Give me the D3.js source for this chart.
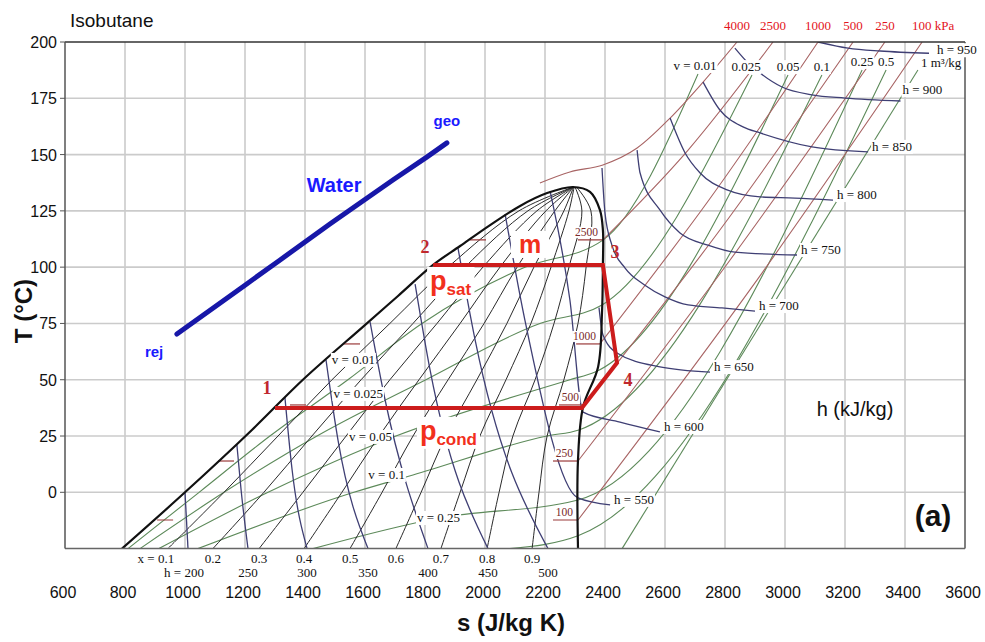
<!DOCTYPE html>
<html>
<head>
<meta charset="utf-8">
<script src="https://cdn.jsdelivr.net/npm/d3@7"></script>
<style>body{margin:0;background:#fff}</style>
</head>
<body>
<svg id="chart" width="985" height="642"></svg>
<script>
// s in J/kg K, T in °C

// saturation dome, liquid side then vapour side
const dome = [[790,-25],[1000,0],[1223,27.7],[1393,50],[1593,73.5],[1710,87.2],[1827,101],[1917,109.4],[2017,118.7],
  [2117,127.2],[2207,132.9],[2293,135.6],[2350,133.4],[2383,125.4],[2393,116.5],[2393,101],[2390,79.7],
  [2377,55.7],[2327,38],[2310,14.4],[2310,-25]];

// quality lines
const qualities = [0.1,0.2,0.3,0.4,0.5,0.6,0.7,0.8,0.9];
const qualityLines = [
  [[943,-25],[1130,0],[1310,25],[1490,50],[1683,75],[1877,100],[2113,125],[2295,135.6]],
  [[1093,-25],[1263,0],[1423,25],[1587,50],[1760,75],[1933,100],[2143,125],[2295,135.6]],
  [[1247,-25],[1393,0],[1537,25],[1683,50],[1840,75],[1993,100],[2173,125],[2295,135.6]],
  [[1397,-25],[1523,0],[1647,25],[1780,50],[1917,75],[2050,100],[2203,125],[2295,135.6]],
  [[1550,-25],[1657,0],[1760,25],[1877,50],[1997,75],[2107,100],[2233,125],[2295,135.6]],
  [[1703,-25],[1787,0],[1870,25],[1973,50],[2073,75],[2163,100],[2263,125],[2295,135.6]],
  [[1853,-25],[1917,0],[1983,25],[2070,50],[2153,75],[2220,100],[2280,125],[2297,135.6]],
  [[2007,-25],[2047,0],[2093,25],[2167,50],[2230,75],[2280,100],[2323,125],[2300,135.6]],
  [[2157,-25],[2180,0],[2207,25],[2263,50],[2310,75],[2337,100],[2353,125],[2305,135.6]]
];

// isenthalps (kJ/kg)
const hValues = [200,250,300,350,400,450,500,550,600,650,700,750,800,850,900,950];
const hLines = [
  [[1000,0],[1010,-25]],
  [[1173,21],[1187,1],[1210,-25]],
  [[1333,42.3],[1357,10],[1407,-25]],
  [[1470,58.8],[1510,23.2],[1610,-25]],
  [[1617,75.6],[1667,41],[1810,-25]],
  [[1767,92.5],[1817,54.3],[2010,-25]],
  [[1910,108.5],[1967,67.7],[2210,-25]],
  [[2067,123.6],[2133,76.5],[2310,-2.5],[2417,-5.6]],
  [[2217,133.8],[2283,85.4],[2327,35.6],[2450,31.2],[2583,26.8]],
  [[2380,82],[2393,70],[2440,61.9],[2583,55.7],[2750,53.4]],
  [[2390,144],[2400,124],[2423,109.8],[2467,99.6],[2533,92],[2600,86.8],[2677,83.2],[2790,81.9],[2900,80.5]],
  [[2507,152],[2517,141.8],[2583,125.4],[2650,115.2],[2743,109.8],[2833,106.7],[3040,105.4]],
  [[2617,166.2],[2667,150.7],[2717,141.8],[2807,134.3],[2917,131.2],[3033,130.7],[3160,129.8]],
  [[2727,182.2],[2783,169.8],[2860,162.3],[2917,159.6],[3090,153.4],[3277,151.2]],
  [[2833,197.3],[2877,190.7],[2917,186.2],[2990,180],[3090,176.5],[3200,175.1],[3385,173.8]],
  [[3110,200],[3210,197.3],[3317,196],[3480,195]]
];

// isochores (m3/kg)
const vLabels = ["0.01","0.025","0.05","0.1","0.25","0.5","1"];
const vLines = [
  [[810,-25],[1047,0],[1283,25],[1543,50],[1790,75],[2127,99.6],[2393,112],[2710,185.8]],
  [[850,-25],[1130,0],[1440,25],[1803,50],[2183,75],[2390,83.2],[2890,185.3]],
  [[913,-25],[1277,0],[1703,25],[2283,50],[2367,53.4],[3010,185.3]],
  [[1043,-25],[1563,0],[1760,7.7],[2207,25],[2313,27.7],[3123,185.3]],
  [[1427,-25],[1847,-11.4],[2310,-3.4],[3257,187.6]],
  [[2083,-25],[2310,-19.3],[3337,187.6]],
  [[2457,-25],[3443,187.6]]
];
// where the v labels sit inside the dome (right end)
const vDomeLabelPos = [[1633,58.8],[1660,43.7],[1690,24.6],[1733,7.7],[1917,-11.4]];

// isobars (kPa), superheated part
const pValues = [4000,2500,1000,500,250,100];
const pLines = [
  [[2183,137.4],[2283,142.3],[2393,145.4],[2507,152.9],[2617,166.2],[2727,182.2],[2840,200]],
  [[2393,112.1],[2677,152],[2960,200]],
  [[2383,65.9],[2750,130.5],[3110,200]],
  [[2330,38.8],[2783,116.5],[3227,200]],
  [[2310,13.9],[2817,103.2],[3333,200]],
  [[2310,-12.3],[2883,89.9],[3457,200]]
];
// isobars inside the dome: saturation temperature, liquid and vapour entropy
const satP = [2500,1000,500,250,100];
const satT = [112.1,65.9,38.8,13.9,-12.3];
const satSl = [1950,1530,1350,1110,907];
const satSv = [2393,2387,2330,2310,2310];

// ORC cycle 1-2-3-4 and the geothermal water line
const cycle = [[1300,37.5],[2323,37.5],[2440,57.5],[2393,101],[1827,101]];
const cycleLabels = [["1",1273,43.7],["2",1800,106.3],["3",2433,104],["4",2477,47.2]];
const water = [[973,70.3],[1200,92],[1317,103.2],[1483,119.2],[1693,138.7],[1807,149],[1873,155.2]];

const sTicks = d3.range(600, 3601, 200);
const tTicks = d3.range(0, 201, 25);

const svg = d3.select("#chart");
const x = d3.scaleLinear().domain([600, 3600]).range([65, 965]);
const y = d3.scaleLinear().domain([-25, 200]).range([548.6, 42]);
const serif = "'Liberation Serif', 'Times New Roman', serif";
const sans = "'Liberation Sans', Arial, sans-serif";

svg.append("defs").append("clipPath").attr("id", "plot")
  .append("rect").attr("x", 65).attr("y", 42).attr("width", 900).attr("height", 506.6);

// grid
const grid = svg.append("g");
grid.selectAll("line.v").data(sTicks.slice(1, -1)).enter().append("line")
  .attr("x1", d => x(d)).attr("x2", d => x(d)).attr("y1", y(200)).attr("y2", y(-25))
  .attr("stroke", "#cbcbcb").attr("stroke-width", 1.6);
grid.selectAll("line.h").data(tTicks.slice(0, -1)).enter().append("line")
  .attr("x1", x(600)).attr("x2", x(3600)).attr("y1", d => y(d)).attr("y2", d => y(d))
  .attr("stroke", "#cbcbcb").attr("stroke-width", 1.6);

const mono = d3.line().x(d => x(d[0])).y(d => y(d[1])).curve(d3.curveMonotoneX);
const smooth = d3.line().x(d => x(d[0])).y(d => y(d[1])).curve(d3.curveCatmullRom.alpha(0.5));
const straight = d3.line().x(d => x(d[0])).y(d => y(d[1]));

const lines = svg.append("g").attr("clip-path", "url(#plot)").attr("fill", "none");

lines.selectAll("path.v").data(vLines).enter().append("path")
  .attr("d", mono).attr("stroke", "#5d8a5a").attr("stroke-width", 1.1);

lines.selectAll("path.p").data(pLines).enter().append("path")
  .attr("d", mono).attr("stroke", "#a86464").attr("stroke-width", 1.1);

lines.selectAll("path.q").data(qualityLines).enter().append("path")
  .attr("d", smooth).attr("stroke", "#2a2a2a").attr("stroke-width", 1);

lines.selectAll("path.h").data(hLines).enter().append("path")
  .attr("d", mono).attr("stroke", "#3f3f74").attr("stroke-width", 1.3);

// isobar stubs in the dome
satP.forEach((p, i) => {
  lines.append("line").attr("x1", x(satSl[i])).attr("x2", x(satSl[i]) + 16)
    .attr("y1", y(satT[i])).attr("y2", y(satT[i])).attr("stroke", "#9a3a3a").attr("stroke-width", 1.2);
  lines.append("line").attr("x1", x(satSv[i]) - 25).attr("x2", x(satSv[i]))
    .attr("y1", y(satT[i])).attr("y2", y(satT[i])).attr("stroke", "#9a3a3a").attr("stroke-width", 1.2);
});

lines.append("path").attr("d", smooth(dome)).attr("stroke", "#111").attr("stroke-width", 2.2);

// frame
const frame = svg.append("g").attr("fill", "none");
frame.append("line").attr("x1", 65).attr("x2", 965).attr("y1", 42).attr("y2", 42).attr("stroke", "#333").attr("stroke-width", 1.5);
frame.append("line").attr("x1", 965).attr("x2", 965).attr("y1", 42).attr("y2", 548.6).attr("stroke", "#555").attr("stroke-width", 1.5);
frame.append("line").attr("x1", 65).attr("x2", 965).attr("y1", 548.6).attr("y2", 548.6).attr("stroke", "#666").attr("stroke-width", 1.5);
frame.append("line").attr("x1", 65).attr("x2", 65).attr("y1", 42).attr("y2", 548.6).attr("stroke", "#555").attr("stroke-width", 1.5);
frame.selectAll("line.tk").data(tTicks).enter().append("line")
  .attr("x1", 60).attr("x2", 65).attr("y1", d => y(d)).attr("y2", d => y(d)).attr("stroke", "#555");

// labels with white background
const ann = svg.append("g");
function bgText(t, pad) {
  const b = t.node().getBBox();
  ann.insert("rect", () => t.node())
    .attr("x", b.x - pad).attr("y", b.y + 1).attr("width", b.width + 2 * pad).attr("height", b.height - 1)
    .attr("fill", "#fff");
  return t;
}
function stext(txt, px, py, size, anchor, color, bg) {
  const t = ann.append("text").attr("x", px).attr("y", py).text(txt)
    .attr("font-family", serif).attr("font-size", size).attr("text-anchor", anchor || "start")
    .attr("fill", color || "#111");
  if (bg) bgText(t, 1);
  return t;
}

// h labels
hValues.forEach((h, i) => {
  const pts = hLines[i];
  const last = pts[pts.length - 1];
  if (h <= 500) {
    stext(i === 0 ? "h = " + h : h, x(last[0]) + (i === 0 ? -4 : 0), 577, 13, "middle");
  } else if (h === 900) {
    stext("h = " + h, x(last[0]) + 2, y(last[1]) - 7, 13, "start", "#111", true);
  } else if (h === 950) {
    stext("h = " + h, x(last[0]) + 8, y(last[1]) + 1, 13, "start", "#111", true);
  } else {
    stext("h = " + h, x(last[0]) + 4, y(last[1]) - 1, 13, "start", "#111", true);
  }
});

// quality labels along the bottom
qualities.forEach((q, i) => {
  const s0 = qualityLines[i][0][0];
  stext(i === 0 ? "x = " + q : q, x(s0) + (i === 0 ? -12 : 0), 563, 13, "middle");
});

// isochore labels at top and inside the dome
vLabels.forEach((v, i) => {
  const pts = vLines[i];
  const last = pts[pts.length - 1];
  const px = x(last[0]);
  if (i === 0) stext("v = " + v, px - 3, y(last[1]) - 4, 13, "middle", "#111", true);
  else if (i === 6) stext("1 m³/kg", px + 3, y(last[1]) - 3, 13, "start", "#111", true);
  else stext(v, px - (i === 1 ? 6 : 0), y(last[1]) - 4, 13, "middle", "#111", true);
});
vDomeLabelPos.forEach((d, i) => {
  stext("v = " + vLabels[i], x(d[0]), y(d[1]) + 4, 13, "end", "#111", true);
});

// isobar labels
pValues.forEach((p, i) => {
  const pts = pLines[i];
  const last = pts[pts.length - 1];
  if (i === pValues.length - 1) stext(p + " kPa", x(last[0]) - 10, 30, 13, "start", "#e3141c");
  else stext(p, x(last[0]), 30, 13, "middle", "#e3141c");
});
satP.forEach((p, i) => {
  stext(p, x(satSv[i]) - 5, y(satT[i]) - 4, 11.5, "end", "#7a2a2a", true);
});

// cycle
const red = "#f2301c";
const m = ann.append("text").attr("x", x(2150)).attr("y", y(106.3)).attr("text-anchor", "middle")
  .attr("font-family", sans).attr("font-weight", "bold").attr("font-size", 25).attr("fill", red).text("m");
bgText(m, 8);
const psat = ann.append("text").attr("x", x(1817)).attr("y", y(89.9))
  .attr("font-family", sans).attr("font-weight", "bold").attr("font-size", 27).attr("fill", red);
psat.append("tspan").text("p");
psat.append("tspan").attr("font-size", 17).attr("dy", 5).text("sat");
bgText(psat, 3);
const pcond = ann.append("text").attr("x", x(1783)).attr("y", y(23.3))
  .attr("font-family", sans).attr("font-weight", "bold").attr("font-size", 27).attr("fill", red);
pcond.append("tspan").text("p");
pcond.append("tspan").attr("font-size", 17).attr("dy", 5).text("cond");
bgText(pcond, 3);

ann.append("path").attr("d", straight(cycle)).attr("fill", "none")
  .attr("stroke", "#cc1c1c").attr("stroke-width", 4).attr("stroke-linejoin", "miter");
ann.selectAll("text.cl").data(cycleLabels).enter().append("text")
  .attr("x", d => x(d[1])).attr("y", d => y(d[2])).attr("text-anchor", "middle")
  .attr("font-family", serif).attr("font-weight", "bold").attr("font-size", 18).attr("fill", "#c0282d")
  .text(d => d[0]);

// water
ann.append("path").attr("d", straight(water)).attr("fill", "none")
  .attr("stroke", "#1717a8").attr("stroke-width", 5).attr("stroke-linecap", "round");
const blue = "#1a1aff";
ann.append("text").attr("x", x(1497)).attr("y", y(133.5)).attr("text-anchor", "middle")
  .attr("font-family", sans).attr("font-weight", "bold").attr("font-size", 20).attr("fill", blue).text("Water");
ann.append("text").attr("x", x(1873)).attr("y", y(162.7)).attr("text-anchor", "middle")
  .attr("font-family", sans).attr("font-weight", "bold").attr("font-size", 15).attr("fill", blue).text("geo");
ann.append("text").attr("x", x(897)).attr("y", y(60.1)).attr("text-anchor", "middle")
  .attr("font-family", sans).attr("font-weight", "bold").attr("font-size", 15).attr("fill", blue).text("rej");

// axes text
const axisText = svg.append("g").attr("font-family", sans).attr("fill", "#111");
axisText.selectAll("text.xt").data(sTicks).enter().append("text")
  .attr("x", d => x(d) - 2).attr("y", 598).attr("text-anchor", "middle").attr("font-size", 16).text(d => d);
axisText.selectAll("text.yt").data(tTicks).enter().append("text")
  .attr("x", 57).attr("y", d => y(d) + 6).attr("text-anchor", "end").attr("font-size", 16).text(d => d);
axisText.append("text").attr("x", 70).attr("y", 27).attr("font-size", 19).text("Isobutane");
axisText.append("text").attr("x", 511).attr("y", 631).attr("text-anchor", "middle")
  .attr("font-size", 24).attr("font-weight", "bold").text("s (J/kg K)");
axisText.append("text").attr("transform", "translate(32,311) rotate(-90)").attr("text-anchor", "middle")
  .attr("font-size", 24).attr("font-weight", "bold").text("T (°C)");
axisText.append("text").attr("x", 855).attr("y", 416).attr("text-anchor", "middle")
  .attr("font-size", 20).text("h (kJ/kg)");
axisText.append("text").attr("x", 933).attr("y", 526).attr("text-anchor", "middle")
  .attr("font-size", 30).attr("font-weight", "bold").text("(a)");
</script>
</body>
</html>
